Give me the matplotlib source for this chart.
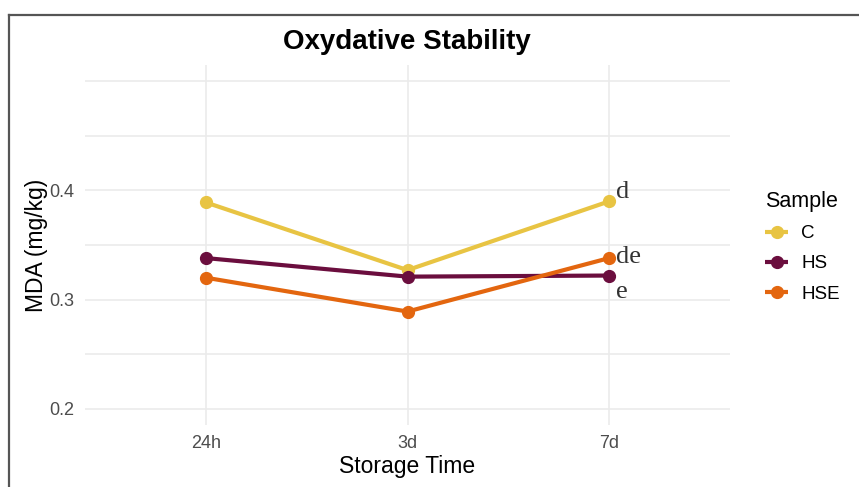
import matplotlib
matplotlib.use("Agg")
import matplotlib.pyplot as plt
from matplotlib.lines import Line2D

times = ["24h", "3d", "7d"]
samples = ["C", "HS", "HSE"]
values = {
    "C": [0.389, 0.327, 0.390],
    "HS": [0.338, 0.321, 0.322],
    "HSE": [0.320, 0.289, 0.338],
}
colors = {"C": "#E8C443", "HS": "#6B0E3E", "HSE": "#E3660F"}
letters = ["d", "de", "e"]
letter_y = [0.399, 0.339, 0.307]
yticks = [0.2, 0.3, 0.4]

plt.rcParams['font.family'] = ['Liberation Sans', 'DejaVu Sans']
fig = plt.figure(figsize=(8.59, 4.87), dpi=100)
ax = fig.add_axes([85/859, 1-425/487, 645/859, 360/487])

x = list(range(len(times)))
for s in samples:
    ax.plot(x, values[s], color=colors[s], lw=3.0, marker='o', ms=8.5,
            solid_capstyle='butt', label=s, zorder=3)

for lab, yv in zip(letters, letter_y):
    ax.annotate(lab, xy=(x[-1], yv), xytext=(5, 0), textcoords='offset points',
                fontsize=19, family='Liberation Serif', color='#333333',
                ha='left', va='center', zorder=4)

ax.set_xlim(-0.6, 2.6)
ax.set_ylim(0.185, 0.515)
ax.set_xticks(x)
ax.set_xticklabels(times)
ax.set_yticks(yticks)
ax.set_yticks([0.25, 0.35, 0.45, 0.5], minor=True)
ax.grid(True, which='major', color='#EBEBEB', lw=1.2, zorder=0)
ax.grid(True, which='minor', axis='y', color='#EBEBEB', lw=1.2, zorder=0)
ax.tick_params(which='both', length=0, labelsize=13, labelcolor='#4D4D4D')
ax.tick_params(axis='x', pad=7)
ax.tick_params(axis='y', pad=8)
for sp in ax.spines.values():
    sp.set_visible(False)

ax.set_xlabel("Storage Time", fontsize=16.5, color='black', labelpad=2)
ax.set_ylabel("MDA (mg/kg)", fontsize=16.5, color='black', labelpad=1)
fig.text(407/859, 1-42/487, "Oxydative Stability", fontsize=20, fontweight='bold',
         ha='center', va='center')

leg = ax.legend(title="Sample", loc='upper left', bbox_to_anchor=(748/859, 1-174/487),
                bbox_transform=fig.transFigure, frameon=False, fontsize=13.5,
                title_fontsize=15.5, handlelength=1.25, handletextpad=0.7,
                labelspacing=0.7, alignment='left')

fig.add_artist(Line2D([9/859, 9/859], [0, 1-14.5/487], transform=fig.transFigure,
                      color='#555555', lw=1.6))
fig.add_artist(Line2D([9/859, 1], [1-14.5/487, 1-14.5/487], transform=fig.transFigure,
                      color='#555555', lw=1.6))

fig.savefig("out.png", dpi=100)
